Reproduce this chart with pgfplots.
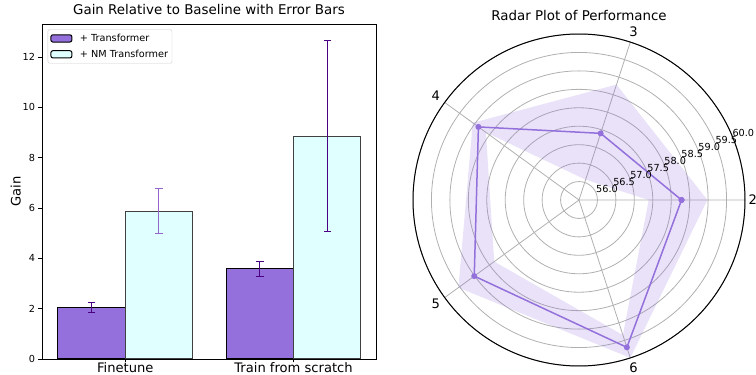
\documentclass[border=0pt]{standalone}
\usepackage{fontspec}
\setmainfont{DejaVu Sans}
\usepackage{pgfplots}
\pgfplotsset{compat=1.18}
\usepgfplotslibrary{polar}
\definecolor{mpurple}{RGB}{147,112,219}
\definecolor{lcyan}{RGB}{224,255,255}
\definecolor{indigo}{RGB}{75,0,130}
\definecolor{errlight}{RGB}{150,100,205}
\definecolor{gridgrey}{RGB}{176,176,176}
\newcommand{\fbig}{\fontsize{13.1pt}{15pt}\selectfont}
\newcommand{\ftitle}{\fontsize{13.4pt}{16pt}\selectfont}
\newcommand{\fsmall}{\fontsize{9.7pt}{11.5pt}\selectfont}
\begin{document}
\begin{tikzpicture}
\path[use as bounding box] (0pt,0pt) rectangle (756pt,375pt);
\begin{axis}[
  at={(42pt,16pt)}, anchor=south west,
  scale only axis, width=334pt, height=334.7pt,
  xmin=-0.495, xmax=1.49, ymin=0, ymax=13.3,
  ybar,
  xtick={0,1}, xticklabels={Finetune,Train from scratch},
  ytick={0,2,4,6,8,10,12},
  tick pos=left, tick align=outside,
  major tick length=3.5pt,
  tick style={black, line width=0.8pt},
  axis line style={line width=0.8pt},
  /pgf/number format/assume math mode=true,
  yticklabel style={font=\fsmall},
  xticklabel style={font=\fbig, anchor=base, yshift=-9.8pt},
  title={Gain Relative to Baseline with Error Bars},
  title style={font=\ftitle, at={(0.5,1)}, anchor=base, yshift=3.6pt},
  legend style={at={(0,1)}, anchor=north west, xshift=5.7pt, yshift=-5pt,
    draw=black!20, rounded corners=2pt, font=\fsmall, cells={anchor=west},
    nodes={inner sep=1.5pt}, row sep=4pt, inner xsep=2.5pt, inner ysep=3pt,
    /tikz/every odd column/.append style={column sep=6pt}},
]
\addplot[bar width=0.4, bar shift=-0.2, fill=mpurple, draw=black, line width=1pt,
  legend image code/.code={\draw[fill=mpurple, draw=black, line width=1pt] (0pt,-3.6pt) rectangle (21pt,3.6pt);},
  error bars/.cd, y dir=both, y explicit,
  error bar style={indigo, line width=1pt},
  error mark options={indigo, rotate=90, mark size=3.7pt, line width=1pt}]
  coordinates {(0,2.05) +- (0,0.20) (1,3.58) +- (0,0.30)};
\addlegendentry{+ Transformer}
\addplot[bar width=0.4, bar shift=0.2, fill=lcyan, draw=black!75, line width=1pt,
  legend image code/.code={\draw[fill=lcyan, draw=black, line width=1pt] (0pt,-3.6pt) rectangle (21pt,3.6pt);},
  error bars/.cd, y dir=both, y explicit,
  error bar style={errlight, line width=1pt},
  error mark options={errlight, rotate=90, mark size=3.7pt, line width=1pt}]
  coordinates {(0,5.88) +- (0,0.89)};
\addlegendentry{+ NM Transformer}
\addplot[forget plot, bar width=0.4, bar shift=0.2, fill=lcyan, draw=black!75, line width=1pt,
  error bars/.cd, y dir=both, y explicit,
  error bar style={indigo, line width=1pt},
  error mark options={indigo, rotate=90, mark size=3.7pt, line width=1pt}]
  coordinates {(1,8.86) +- (0,3.80)};
\end{axis}
\node[font=\fbig, rotate=90, anchor=base] at (20.5pt,183.3pt) {Gain};
\begin{polaraxis}[
  at={(579pt,175pt)}, anchor=center,
  scale only axis, width=332pt, height=332pt,
  xmin=0, xmax=360, ymin=0, ymax=4.5,
  clip=false,
  xtick={0,72,144,216,288}, xticklabels={2,3,4,5,6},
  ytick={0.5,1,1.5,2,2.5,3,3.5,4,4.5}, yticklabels={},
  grid=major, major grid style={gridgrey, line width=0.8pt},
  major tick length=0pt,
  separate axis lines,
  x axis line style={black, line width=1pt},
  y axis line style={draw=none},
  xticklabel style={font=\fbig},
]
\addplot[draw=none, fill=mpurple, fill opacity=0.2, y filter/.expression={y-55.5}]
  coordinates {(0,58.98) (72,58.79) (144,59.06) (216,59.54) (288,60.0) (360,58.98)
               (360,57.39) (288,59.35) (216,58.34) (144,58.62) (72,56.08) (0,57.39)} -- cycle;
\addplot[mpurple, line width=1.5pt, mark=*, mark size=2.2pt, mark options={fill=mpurple}, y filter/.expression={y-55.5}]
  coordinates {(0,58.28) (72,57.40) (144,58.87) (216,59.01) (288,59.70) (360,58.28)};
\node[anchor=south west, inner sep=0pt, font=\fsmall] at (axis cs:22.5,0.5) {56.0};
\node[anchor=south west, inner sep=0pt, font=\fsmall] at (axis cs:22.5,1.0) {56.5};
\node[anchor=south west, inner sep=0pt, font=\fsmall] at (axis cs:22.5,1.5) {57.0};
\node[anchor=south west, inner sep=0pt, font=\fsmall] at (axis cs:22.5,2.0) {57.5};
\node[anchor=south west, inner sep=0pt, font=\fsmall] at (axis cs:22.5,2.5) {58.0};
\node[anchor=south west, inner sep=0pt, font=\fsmall] at (axis cs:22.5,3.0) {58.5};
\node[anchor=south west, inner sep=0pt, font=\fsmall] at (axis cs:22.5,3.5) {59.0};
\node[anchor=south west, inner sep=0pt, font=\fsmall] at (axis cs:22.5,4.0) {59.5};
\node[anchor=south west, inner sep=0pt, font=\fsmall] at (axis cs:22.5,4.5) {60.0};
\end{polaraxis}
\node[font=\ftitle, anchor=base] at (579pt,354pt) {Radar Plot of Performance};
\end{tikzpicture}
\end{document}
